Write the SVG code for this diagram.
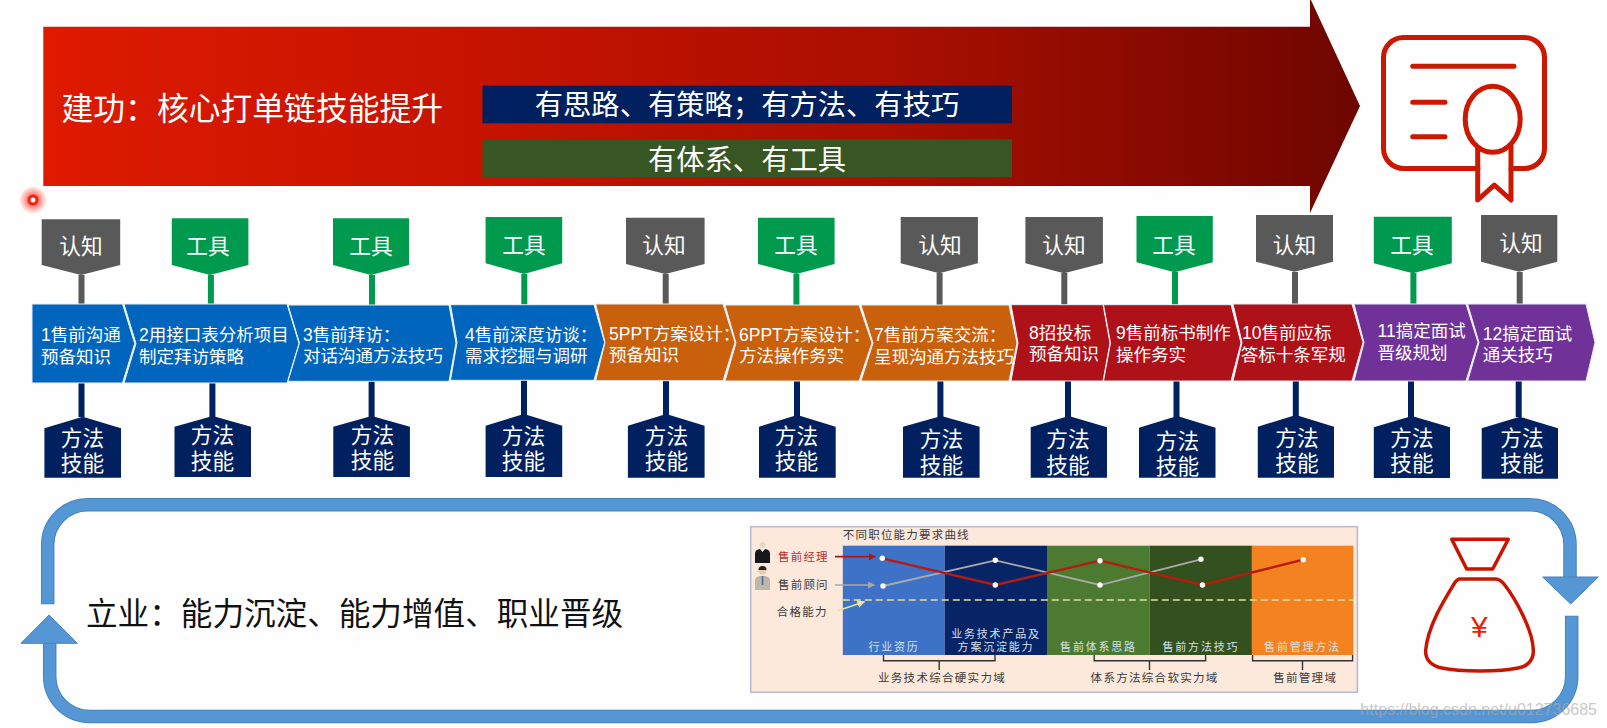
<svg xmlns="http://www.w3.org/2000/svg" width="1607" height="728" viewBox="0 0 1607 728">
<style>
text{font-family:"Liberation Sans","Noto Sans CJK SC",sans-serif}
.w{fill:#fff}
.gr{fill:#595959}.gn{fill:#009a4e}.nv{fill:#002060}
.blue{fill:#0065bd}.or{fill:#c9600c}.rd{fill:#af1119}.pu{fill:#703299}
.chev{stroke:#e8eef5;stroke-width:1}
.cl{font-size:17.5px;fill:#fff}
.tg{font-size:21.7px;fill:#fff;text-anchor:middle}
.s-gr{stroke:#595959;stroke-width:6;fill:none}
.s-gn{stroke:#009a4e;stroke-width:6;fill:none}
.s-nv{stroke:#002060;stroke-width:6;fill:none}
.ink{stroke:#cc1800;fill:none;stroke-width:5;stroke-linecap:round;stroke-linejoin:round}
.bag{stroke:#c81400;fill:none;stroke-width:3.5;stroke-linejoin:round}
.lo{stroke:#4a82bd;stroke-width:13.5;fill:none}
.li{stroke:#5596d4;stroke-width:11.5;fill:none}
.hd{fill:#5596d4;stroke:#4a82bd;stroke-width:1}
.ct{font-size:11.5px;letter-spacing:1.2px;fill:#3a3a3a}
.cc{font-size:11px;letter-spacing:1.8px;fill:#d7e0ea;text-anchor:middle}
.cb{font-size:11.5px;letter-spacing:1.3px;fill:#3a3a3a;text-anchor:middle}
.br{stroke:#333;stroke-width:1.4;fill:none}
</style>
<defs>
<linearGradient id="ag" x1="0" x2="1" y1="0" y2="0">
<stop offset="0" stop-color="#de1a00"/><stop offset="0.35" stop-color="#c41300"/><stop offset="0.65" stop-color="#a90f00"/><stop offset="1" stop-color="#6e0600"/>
</linearGradient>
<radialGradient id="glow"><stop offset="0.3" stop-color="#ff3a2a" stop-opacity="0.75"/><stop offset="1" stop-color="#ff3a2a" stop-opacity="0"/></radialGradient>
<marker id="mr" viewBox="0 0 10 10" refX="9" refY="5" markerWidth="4" markerHeight="4" orient="auto"><path d="M0 0L10 5L0 10Z" fill="#b0141a"/></marker>
<marker id="mg" viewBox="0 0 10 10" refX="9" refY="5" markerWidth="5" markerHeight="5" orient="auto"><path d="M0 0L10 5L0 10Z" fill="#a8a8a8"/></marker>
<marker id="my" viewBox="0 0 10 10" refX="9" refY="5" markerWidth="5" markerHeight="5" orient="auto"><path d="M0 0L10 5L0 10Z" fill="#ece29a"/></marker>
</defs>
<rect width="1607" height="728" fill="#fefefe"/>

<g id="main-arrow">
<path d="M43.3 26.7H1310V-2L1360 106L1310 213V186H43.3Z" fill="url(#ag)"/>
<text x="61.500" y="119.500" font-size="31.800" class="w">建功：核心打单链技能提升</text>
</g>
<g id="box-approach">
<rect x="482.5" y="85.7" width="529.5" height="37.6" fill="#002060"/>
<text x="747" y="115" font-size="28.300" class="w" text-anchor="middle">有思路、有策略；有方法、有技巧</text>
</g>
<g id="box-system">
<rect x="482.5" y="139.3" width="529.5" height="38" fill="#375623"/>
<text x="747" y="170" font-size="28.300" class="w" text-anchor="middle">有体系、有工具</text>
</g>
<g id="certificate">
<path class="ink" d="M1478 168.5H1403.5A20 20 0 0 1 1383.5 148.500V57.500A20 20 0 0 1 1403.500 37.500H1524.500A20 20 0 0 1 1544.500 57.500V148.500A20 20 0 0 1 1524.500 168.500H1511"/>
<path class="ink" d="M1412.700 66.300H1514M1412.700 102.300H1445M1412.700 136.700H1445"/>
<ellipse class="ink" cx="1492.700" cy="119.300" rx="27.500" ry="33"/>
<path class="ink" d="M1477.700 148V200L1494.300 185L1511 200V146"/>
</g>
<g id="pointer">
<circle cx="33" cy="200" r="14" fill="url(#glow)"/>
<circle cx="33" cy="200" r="4" fill="#fff" stroke="#f5200f" stroke-width="3"/>
</g>

<g id="connectors">
<path class="s-gr" d="M81.500 275V305"/><path class="s-gn" d="M210.900 275V305"/><path class="s-gn" d="M372 275V305"/><path class="s-gn" d="M524.300 274V305"/>
<path class="s-gr" d="M665.700 274V305"/><path class="s-gn" d="M796.400 274V305"/><path class="s-gr" d="M939.600 273V305"/><path class="s-gr" d="M1064.300 273V305"/>
<path class="s-gn" d="M1175 272V305"/><path class="s-gr" d="M1295 272V305"/><path class="s-gn" d="M1413.400 273V305"/><path class="s-gr" d="M1519.700 272V305"/>
<path class="s-nv" d="M81.500 382V417"/><path class="s-nv" d="M212.400 382V417"/><path class="s-nv" d="M371.600 379V417"/><path class="s-nv" d="M524 380V415"/>
<path class="s-nv" d="M666 378V415"/><path class="s-nv" d="M797 379V416"/><path class="s-nv" d="M940.400 380V417"/><path class="s-nv" d="M1068 380V417"/>
<path class="s-nv" d="M1176.500 380V417"/><path class="s-nv" d="M1295.800 378V416"/><path class="s-nv" d="M1411 380V417"/><path class="s-nv" d="M1518.700 380V417"/>
</g>

<g id="step-1"><path class="blue chev" d="M32 304H122.500L134.700 343.500L122.500 383H32Z"/><text class="cl" x="41" y="341.300">1售前沟通</text><text class="cl" x="41" y="363">预备知识</text></g>
<g id="step-2"><path class="blue chev" d="M124 304H287L299 343.500L287 383H124L136 343.500Z"/><text class="cl" x="139" y="341.300">2用接口表分析项目</text><text class="cl" x="139" y="363">制定拜访策略</text></g>
<g id="step-3"><path class="blue chev" d="M288 305H449L456 343L449 381.300H288L299.500 343Z"/><text class="cl" x="303" y="340.600">3售前拜访：</text><text class="cl" x="303" y="362">对话沟通方法技巧</text></g>
<g id="step-4"><path class="blue chev" d="M450.500 304.700H594L604.600 342.500L594 380.300H450.500L457 342.500Z"/><text class="cl" x="465" y="340.600">4售前深度访谈：</text><text class="cl" x="465" y="362">需求挖掘与调研</text></g>
<g id="step-5"><path class="or chev" d="M595.700 304H723L735 342.500L723 380.700H595.700L605 342.500Z"/><text class="cl" x="609" y="339.600">5PPT方案设计：</text><text class="cl" x="609" y="361.300">预备知识</text></g>
<g id="step-6"><path class="or chev" d="M725 305H859L872 343L859 381H725L736 343Z"/><text class="cl" x="739" y="340.600">6PPT方案设计：</text><text class="cl" x="739" y="362">方法操作务实</text></g>
<g id="step-7"><path class="or chev" d="M861 305H1009L1017 343L1009 381H861L873 343Z"/><text class="cl" x="874" y="341.300">7售前方案交流：</text><text class="cl" x="874" y="363">呈现沟通方法技巧</text></g>
<g id="step-8"><path class="rd chev" d="M1011 304.700H1103L1110 343L1103 381H1011L1018 343Z"/><text class="cl" x="1029" y="339">8招投标</text><text class="cl" x="1029" y="360.300">预备知识</text></g>
<g id="step-9"><path class="rd chev" d="M1103.500 304.700H1231L1241 343L1231 381H1103.500L1110.500 343Z"/><text class="cl" x="1116" y="339">9售前标书制作</text><text class="cl" x="1116" y="360.500">操作务实</text></g>
<g id="step-10"><path class="rd chev" d="M1233 304H1352L1363 342.500L1352 381H1233L1242 342.500Z"/><text class="cl" x="1242" y="339">10售前应标</text><text class="cl" x="1240.700" y="360.500">答标十条军规</text></g>
<g id="step-11"><path class="pu chev" d="M1354 304H1466L1478 342.500L1466 381H1354L1364 342.500Z"/><text class="cl" x="1377.500" y="337">11搞定面试</text><text class="cl" x="1377.500" y="359">晋级规划</text></g>
<g id="step-12"><path class="pu chev" d="M1467.600 304H1586L1595 342.500L1586 381H1467.600L1479 342.500Z"/><text class="cl" x="1482.700" y="339.600">12搞定面试</text><text class="cl" x="1482.700" y="361">通关技巧</text></g>

<g id="tag-1"><path class="gr" d="M41.700 219.300H120.200V265L81 275L41.700 265Z"/><text class="tg" x="81" y="254">认知</text></g>
<g id="tag-2"><path class="gn" d="M171.800 218.300H248.400V265L210 275L171.800 265Z"/><text class="tg" x="208" y="254">工具</text></g>
<g id="tag-3"><path class="gn" d="M333 218.300H409V265L371 275L333 265Z"/><text class="tg" x="371" y="254">工具</text></g>
<g id="tag-4"><path class="gn" d="M485.600 217H562.200V263.300L524 274L485.600 263.300Z"/><text class="tg" x="524" y="253">工具</text></g>
<g id="tag-5"><path class="gr" d="M626 217.700H704.600V264L665.300 274L626 264Z"/><text class="tg" x="664" y="253">认知</text></g>
<g id="tag-6"><path class="gn" d="M758 217.700H834.600V264L796.300 274L758 264Z"/><text class="tg" x="796" y="253">工具</text></g>
<g id="tag-7"><path class="gr" d="M900.700 217H977.900V263.300L939.300 273.300L900.700 263.300Z"/><text class="tg" x="940" y="252.500">认知</text></g>
<g id="tag-8"><path class="gr" d="M1025.400 217H1102.900V263.300L1064.100 273.300L1025.400 263.300Z"/><text class="tg" x="1064" y="252.500">认知</text></g>
<g id="tag-9"><path class="gn" d="M1136.500 216H1212.800V262.300L1174.600 272.300L1136.500 262.300Z"/><text class="tg" x="1174" y="253">工具</text></g>
<g id="tag-10"><path class="gr" d="M1256 215H1333V261.700L1294.500 271.700L1256 261.700Z"/><text class="tg" x="1294.500" y="253">认知</text></g>
<g id="tag-11"><path class="gn" d="M1373.800 216.700H1451.800V263.300L1412.800 273.300L1373.800 263.300Z"/><text class="tg" x="1412" y="253">工具</text></g>
<g id="tag-12"><path class="gr" d="M1481 215H1557.300V261.700L1519.100 271.700L1481 261.700Z"/><text class="tg" x="1521" y="250.500">认知</text></g>

<g id="skill-1"><path class="nv" d="M44.400 428.300L82.700 416.700L121 428.300V477.700H44.400Z"/><text class="tg" x="82.500" y="446">方法</text><text class="tg" x="82.500" y="471">技能</text></g>
<g id="skill-2"><path class="nv" d="M174.500 426.700L212.700 416L251 426.700V477H174.500Z"/><text class="tg" x="212.500" y="443">方法</text><text class="tg" x="212.500" y="468.500">技能</text></g>
<g id="skill-3"><path class="nv" d="M333.300 426.700L371.600 416L409.900 426.700V477H333.300Z"/><text class="tg" x="372.500" y="443">方法</text><text class="tg" x="372.500" y="468">技能</text></g>
<g id="skill-4"><path class="nv" d="M485.600 425.700L523.900 414L562.200 425.700V477H485.600Z"/><text class="tg" x="523.500" y="444">方法</text><text class="tg" x="523.500" y="469">技能</text></g>
<g id="skill-5"><path class="nv" d="M627.900 425.700L666.200 414L704.600 425.700V477.700H627.900Z"/><text class="tg" x="666.500" y="443.500">方法</text><text class="tg" x="666.500" y="469">技能</text></g>
<g id="skill-6"><path class="nv" d="M759 426.700L797.300 415L835.700 426.700V477.700H759Z"/><text class="tg" x="796.500" y="444">方法</text><text class="tg" x="796.500" y="469">技能</text></g>
<g id="skill-7"><path class="nv" d="M903 426.700L941.300 416L979.600 426.700V477.700H903Z"/><text class="tg" x="941.500" y="447">方法</text><text class="tg" x="941.500" y="473">技能</text></g>
<g id="skill-8"><path class="nv" d="M1030.700 427.300L1068.800 416L1107 427.300V477.700H1030.700Z"/><text class="tg" x="1068" y="447">方法</text><text class="tg" x="1068" y="473">技能</text></g>
<g id="skill-9"><path class="nv" d="M1139 427.700L1177.200 416L1215.500 427.700V477.700H1139Z"/><text class="tg" x="1177.500" y="449">方法</text><text class="tg" x="1177.500" y="474">技能</text></g>
<g id="skill-10"><path class="nv" d="M1257.800 426.700L1295.900 415L1334 426.700V477.700H1257.800Z"/><text class="tg" x="1297" y="446">方法</text><text class="tg" x="1297" y="471">技能</text></g>
<g id="skill-11"><path class="nv" d="M1373.800 427.300L1411.900 416L1450 427.300V478H1373.800Z"/><text class="tg" x="1412" y="446">方法</text><text class="tg" x="1412" y="471">技能</text></g>
<g id="skill-12"><path class="nv" d="M1481.700 428.300L1519.800 416.700L1558 428.300V478.700H1481.700Z"/><text class="tg" x="1522" y="446">方法</text><text class="tg" x="1522" y="471">技能</text></g>

<g id="loop-top">
<path class="lo" d="M47.700 604.300V544.700A40 40 0 0 1 87.700 504.700H1530A40 40 0 0 1 1570 544.700V580"/>
<path class="li" d="M47.700 603.500V544.700A40 40 0 0 1 87.700 504.700H1530A40 40 0 0 1 1570 544.700V580"/>
<path class="hd" d="M1542.700 577H1598.300L1570.700 604Z"/>
</g>
<g id="loop-bottom">
<path class="lo" d="M1571.700 615.700V676.400A40 40 0 0 1 1531.700 716.400H89.700A40 40 0 0 1 49.700 676.400V640"/>
<path class="li" d="M1571.700 616.500V676.400A40 40 0 0 1 1531.700 716.400H89.700A40 40 0 0 1 49.700 676.400V640"/>
<path class="hd" d="M21 643.300H77.300L49 615Z"/>
</g>
<g id="label-career"><text x="86" y="624.500" font-size="31.600" fill="#111">立业：能力沉淀、能力增值、职业晋级</text></g>

<g id="money-bag">
<path class="bag" d="M1451.700 539.300H1508.300L1492.700 569H1466.700Z"/>
<path class="bag" d="M1460 579H1495Q1500 579 1504 584C1515 598 1533 630 1533.300 650C1534 662 1525 667 1518 668C1500 672 1460 672 1442 668C1432 666 1425 660 1425.700 650C1428 625 1446 597 1454 584Q1457 579 1460 579Z"/>
<text x="1479.300" y="637" font-size="30" text-anchor="middle" fill="#ee1c00">¥</text>
</g>

<g id="chart">
<rect x="750.700" y="526.700" width="606.700" height="165.600" fill="#fde9dc" stroke="#b9bccb" stroke-width="1.600"/>
<rect x="842.800" y="545.700" width="101.900" height="109.300" fill="#3d72c6"/>
<rect x="944.700" y="545.700" width="102.300" height="109.300" fill="#072566"/>
<rect x="1047" y="545.700" width="102.500" height="109.300" fill="#4b7a30"/>
<rect x="1149.500" y="545.700" width="102.400" height="109.300" fill="#33501f"/>
<rect x="1251.900" y="545.700" width="101.500" height="109.300" fill="#f58220"/>
<text class="ct" x="842.800" y="539">不同职位能力要求曲线</text>
<path d="M755 563V553Q755.500 549.500 760 549L762.500 552L765 549Q769.500 549.500 770 553V563Z" fill="#15171c"/><circle cx="762.500" cy="545" r="3" fill="#e5d9c4"/>
<path d="M755 590V580Q755.500 576.500 760 576H765Q769.500 576.500 770 580V590Z" fill="#b9b9a5"/><path d="M762.500 576V585" stroke="#4a6a9a" stroke-width="1.500"/><circle cx="762.500" cy="570.500" r="4" fill="#e8c9a8"/><path d="M758.500 570A4 4 0 0 1 766.500 570Z" fill="#222"/>
<text class="ct" x="778" y="561" style="fill:#b5302a">售前经理</text>
<text class="ct" x="778" y="588.500">售前顾问</text>
<text class="ct" x="776.800" y="616">合格能力</text>
<path d="M834.900 556.700H875.200" stroke="#b0141a" stroke-width="1.800" marker-end="url(#mr)"/>
<path d="M834.900 585H874.400" stroke="#a8a8a8" stroke-width="1.400" marker-end="url(#mg)"/>
<path d="M837.600 610.700L864.500 601.700" stroke="#ece29a" stroke-width="1.600" marker-end="url(#my)"/>
<path d="M842.800 600H1353.400" stroke="#e6dda4" stroke-width="1.500" stroke-dasharray="7 4" fill="none"/>
<polyline points="883,586 995.300,560.300 1100,585 1200.900,559.300" fill="none" stroke="#a9a9a9" stroke-width="1.800"/>
<polyline points="882.300,558.300 995.300,585 1100,560.700 1202.500,585 1303.200,559.700" fill="none" stroke="#b81a10" stroke-width="2.400"/>
<g fill="#fff">
<circle cx="882.300" cy="558.300" r="2.700"/><circle cx="995.300" cy="585" r="2.700"/><circle cx="1100" cy="560.700" r="2.700"/><circle cx="1202.500" cy="585" r="2.700"/><circle cx="1303.200" cy="559.700" r="2.700"/>
<circle cx="883" cy="586" r="2.700"/><circle cx="995.300" cy="560.300" r="2.700"/><circle cx="1100" cy="585" r="2.700"/><circle cx="1200.900" cy="559.300" r="2.700"/>
</g>
<text class="cc" x="894" y="650.500">行业资历</text>
<text class="cc" x="996" y="638">业务技术产品及</text>
<text class="cc" x="996" y="651">方案沉淀能力</text>
<text class="cc" x="1098.500" y="650.500">售前体系思路</text>
<text class="cc" x="1200.900" y="650.500">售前方法技巧</text>
<text class="cc" x="1302.500" y="650.500">售前管理方法</text>
<path class="br" d="M883.500 655V660.700H995V655M939.200 660.700V670"/>
<path class="br" d="M1094.200 655V660.700H1205.600V655M1149.500 660.700V670"/>
<path class="br" d="M1252.600 655V660.700H1352.600V655M1302.500 660.700V670"/>
<text class="cb" x="942" y="681.500">业务技术综合硬实力域</text>
<text class="cb" x="1154.600" y="681.500">体系方法综合软实力域</text>
<text class="cb" x="1305.200" y="681.500">售前管理域</text>
</g>
<text x="1597" y="715" font-size="16" text-anchor="end" fill="#aaaaaa" fill-opacity="0.65">https://blog.csdn.net/u012736685</text>
</svg>
